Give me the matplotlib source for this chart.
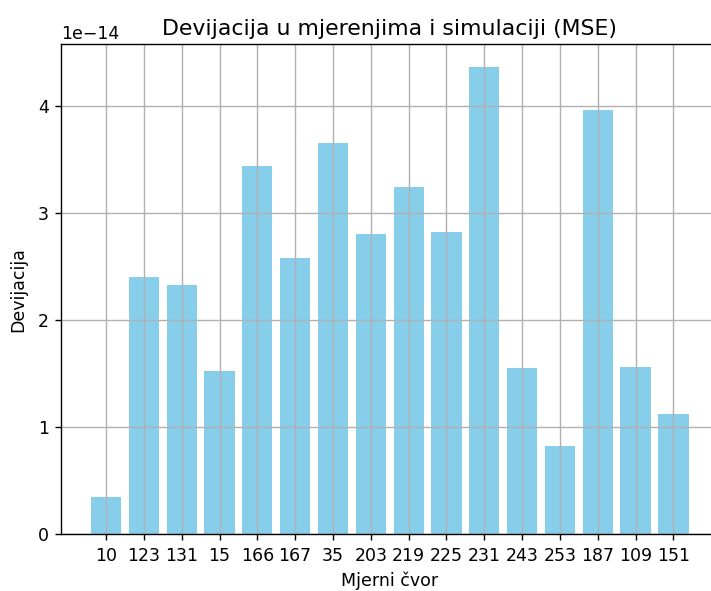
import matplotlib
matplotlib.use('Agg')
import matplotlib.pyplot as plt

# mjerni cvorovi i devijacija (MSE)
cvorovi = ['10', '123', '131', '15', '166', '167', '35', '203',
           '219', '225', '231', '243', '253', '187', '109', '151']
devijacija = [0.345, 2.40, 2.32, 1.52, 3.44, 2.58, 3.65, 2.80,
              3.24, 2.82, 4.36, 1.55, 0.82, 3.96, 1.56, 1.12]
devijacija = [d * 1e-14 for d in devijacija]

W, H, DPI = 711, 591, 125
fig = plt.figure(figsize=((W + 0.4) / DPI, (H + 0.4) / DPI), dpi=DPI)
# desni rub osi je odrezan kao na originalu
ax = fig.add_axes([61 / W, (H - 534) / H, (718 - 61) / W, (534 - 44) / H])

ax.bar(cvorovi, devijacija, color='skyblue')
ax.grid(True)
ax.spines['right'].set_visible(False)
ax.set_title('Devijacija u mjerenjima i simulaciji (MSE)', fontsize=12.7, pad=5)
ax.set_xlabel('Mjerni čvor')
ax.set_ylabel('Devijacija', labelpad=6)

fig.savefig('out.png', dpi=DPI)
